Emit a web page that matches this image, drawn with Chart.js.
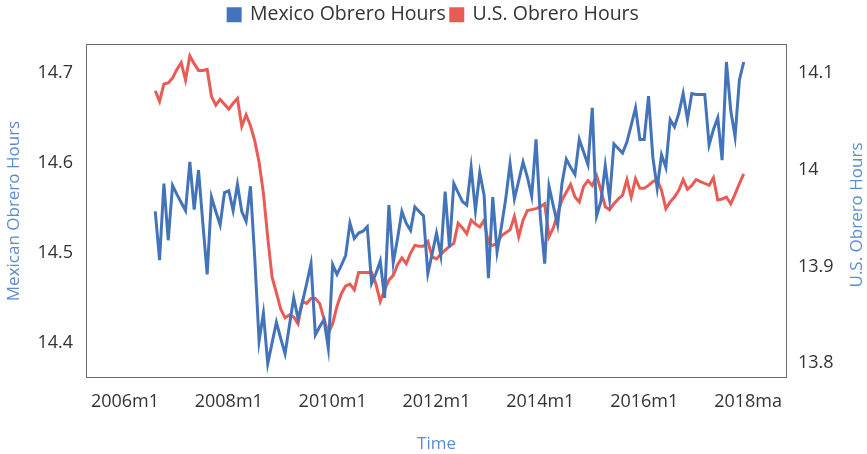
<!DOCTYPE html>
<html lang="en">
<head>
<meta charset="UTF-8">
<title>Mexico vs U.S. Obrero Hours</title>
<script src="https://cdn.jsdelivr.net/npm/chart.js"></script>
<style>
  html, body { margin: 0; padding: 0; background: #fff; }
  .wrapper { width: 867px; height: 454px; }
</style>
</head>
<body>
<div class="wrapper"><canvas id="hoursChart"></canvas></div>
<script>
// monthly log hours, 2006m8 .. 2017m12 (x = months after 2006m1)
const firstMonth = 7;

const mexicoHours = [
  14.546, 14.492, 14.577, 14.514, 14.575, 14.565, 14.556, 14.547, 14.601, 14.548,
  14.592, 14.533, 14.476, 14.562, 14.546, 14.531, 14.567, 14.569, 14.547, 14.576,
  14.546, 14.535, 14.574, 14.494, 14.402, 14.433, 14.377, 14.400, 14.423, 14.405,
  14.388, 14.419, 14.450, 14.427, 14.445, 14.466, 14.488, 14.409, 14.418, 14.426,
  14.394, 14.487, 14.476, 14.486, 14.497, 14.533, 14.516, 14.522, 14.524, 14.529,
  14.466, 14.477, 14.491, 14.450, 14.553, 14.489, 14.516, 14.546, 14.533, 14.525,
  14.551, 14.546, 14.541, 14.477, 14.499, 14.522, 14.497, 14.568, 14.506, 14.577,
  14.567, 14.557, 14.553, 14.595, 14.547, 14.589, 14.564, 14.472, 14.562, 14.501,
  14.529, 14.560, 14.599, 14.560, 14.580, 14.601, 14.584, 14.563, 14.626, 14.540,
  14.488, 14.574, 14.552, 14.531, 14.577, 14.604, 14.595, 14.587, 14.626, 14.612,
  14.598, 14.661, 14.541, 14.557, 14.597, 14.560, 14.621, 14.616, 14.611, 14.623,
  14.642, 14.661, 14.626, 14.626, 14.674, 14.606, 14.572, 14.609, 14.595, 14.648,
  14.640, 14.655, 14.677, 14.648, 14.677, 14.676, 14.676, 14.676, 14.620, 14.637,
  14.650, 14.603, 14.712, 14.658, 14.629, 14.692, 14.712
];

const usHours = [
  14.082, 14.071, 14.089, 14.090, 14.095, 14.104, 14.111, 14.093, 14.118, 14.110,
  14.103, 14.103, 14.104, 14.076, 14.067, 14.073, 14.068, 14.063, 14.069, 14.074,
  14.045, 14.057, 14.046, 14.030, 14.008, 13.976, 13.930, 13.889, 13.873, 13.856,
  13.847, 13.850, 13.848, 13.841, 13.864, 13.862, 13.867, 13.867, 13.862, 13.846,
  13.831, 13.841, 13.859, 13.872, 13.880, 13.882, 13.876, 13.894, 13.894, 13.894,
  13.894, 13.882, 13.864, 13.876, 13.886, 13.891, 13.902, 13.909, 13.903, 13.914,
  13.922, 13.921, 13.921, 13.926, 13.910, 13.908, 13.913, 13.917, 13.921, 13.924,
  13.945, 13.940, 13.934, 13.948, 13.944, 13.941, 13.948, 13.924, 13.922, 13.924,
  13.932, 13.935, 13.938, 13.952, 13.931, 13.948, 13.958, 13.959, 13.960, 13.962,
  13.965, 13.931, 13.940, 13.955, 13.969, 13.977, 13.985, 13.972, 13.967, 13.983,
  13.989, 13.984, 13.994, 13.979, 13.962, 13.959, 13.965, 13.970, 13.974, 13.990,
  13.972, 13.991, 13.981, 13.981, 13.984, 13.988, 13.990, 13.979, 13.960, 13.967,
  13.972, 13.979, 13.990, 13.980, 13.984, 13.990, 13.988, 13.986, 13.984, 13.992,
  13.969, 13.970, 13.972, 13.965, 13.975, 13.986, 13.996
];

const timeTicks = [0, 24, 48, 72, 96, 120, 144];
const timeLabels = ['2006m1', '2008m1', '2010m1', '2012m1', '2014m1', '2016m1', '2018ma'];
const mexicoTicks = [14.4, 14.5, 14.6, 14.7];
const mexicoLabels = ['14.4', '14.5', '14.6', '14.7'];
const usTicks = [13.8, 13.9, 14, 14.1];
const usLabels = ['13.8', '13.9', '14', '14.1'];

const BLUE = '#4374BA';
const RED = '#E85C55';
const TITLE_BLUE = '#5B8BD0';
const TEXT = '#333333';
const FONT = "'Open Sans', sans-serif";

const toPoints = (arr) => arr.map((v, i) => ({ x: firstMonth + i, y: v }));
const fixedTicks = (values) => (scale) => { scale.ticks = values.map(v => ({ value: v })); };
const labelFor = (values, labels) => (value) => {
    const i = values.findIndex(v => Math.abs(v - value) < 1e-9);
    return i >= 0 ? labels[i] : '';
};

// frame around the plot area + right-hand title reading bottom to top
const framePlugin = {
    id: 'frame',
    beforeLayout(chart) {
        const legend = chart.legend;
        if (legend && !legend._fixedFit) {
            const fit = legend.fit.bind(legend);
            legend.fit = function () { fit(); this.height = 44; };
            legend._fixedFit = true;
        }
    },
    afterDraw(chart) {
        const { ctx, chartArea: a } = chart;
        ctx.save();
        ctx.strokeStyle = '#6b6b6b';
        ctx.lineWidth = 1;
        ctx.strokeRect(Math.round(a.left) + 0.5, Math.round(a.top) + 0.5,
            Math.round(a.right - a.left) - 1, Math.round(a.bottom - a.top) - 1);
        ctx.translate(chart.width - 10, (a.top + a.bottom) / 2 + 4);
        ctx.rotate(-Math.PI / 2);
        ctx.fillStyle = TITLE_BLUE;
        ctx.font = '17px ' + FONT;
        ctx.textAlign = 'center';
        ctx.textBaseline = 'middle';
        ctx.fillText('U.S. Obrero Hours', 0, 0);
        ctx.restore();
    }
};

new Chart(document.getElementById('hoursChart'), {
    type: 'line',
    data: {
        datasets: [
            {
                label: 'Mexico Obrero Hours',
                data: toPoints(mexicoHours),
                borderColor: BLUE,
                backgroundColor: BLUE,
                borderWidth: 3,
                pointRadius: 0,
                tension: 0,
                yAxisID: 'y'
            },
            {
                label: 'U.S. Obrero Hours',
                data: toPoints(usHours),
                borderColor: RED,
                backgroundColor: RED,
                borderWidth: 3,
                pointRadius: 0,
                tension: 0,
                yAxisID: 'y1'
            }
        ]
    },
    options: {
        responsive: true,
        maintainAspectRatio: false,
        animation: false,
        layout: { padding: 0 },
        scales: {
            x: {
                type: 'linear',
                min: -9,
                max: 153,
                grid: { display: false, drawTicks: false },
                border: { display: false },
                afterBuildTicks: fixedTicks(timeTicks),
                afterFit: (s) => { s.height = 76; },
                ticks: {
                    color: TEXT,
                    padding: 13,
                    maxRotation: 0,
                    autoSkip: false,
                    font: { family: FONT, size: 18 },
                    callback: labelFor(timeTicks, timeLabels)
                },
                title: {
                    display: true,
                    text: 'Time',
                    color: TITLE_BLUE,
                    padding: { top: 0, bottom: 0 },
                    font: { family: FONT, size: 17 }
                }
            },
            y: {
                position: 'left',
                min: 14.361,
                max: 14.732,
                grid: { display: false, drawTicks: false },
                border: { display: false },
                afterBuildTicks: fixedTicks(mexicoTicks),
                afterFit: (s) => { s.width = 86; },
                ticks: {
                    color: TEXT,
                    padding: 13,
                    font: { family: FONT, size: 18 },
                    callback: labelFor(mexicoTicks, mexicoLabels)
                },
                title: {
                    display: true,
                    text: 'Mexican Obrero Hours',
                    color: TITLE_BLUE,
                    padding: { top: 4, bottom: 0 },
                    font: { family: FONT, size: 17 }
                }
            },
            y1: {
                position: 'right',
                min: 13.7848,
                max: 14.1303,
                grid: { display: false, drawTicks: false },
                border: { display: false },
                afterBuildTicks: fixedTicks(usTicks),
                afterFit: (s) => { s.width = 80; },
                ticks: {
                    color: TEXT,
                    padding: 11,
                    font: { family: FONT, size: 18 },
                    callback: labelFor(usTicks, usLabels)
                }
            }
        },
        plugins: {
            legend: {
                position: 'top',
                labels: {
                    color: TEXT,
                    boxWidth: 12,
                    boxHeight: 12,
                    padding: 5,
                    font: { family: FONT, size: 19.5, lineHeight: 1 }
                }
            },
            tooltip: { enabled: false }
        }
    },
    plugins: [framePlugin]
});
</script>
</body>
</html>
